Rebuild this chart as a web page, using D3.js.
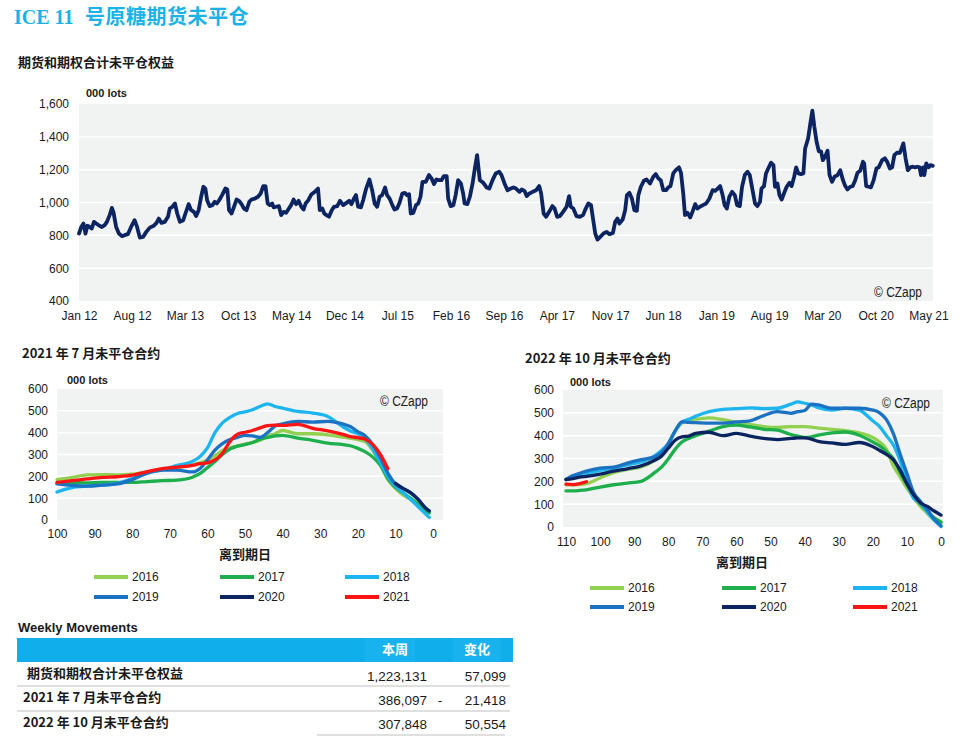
<!DOCTYPE html>
<html><head><meta charset="utf-8">
<script src="https://cdn.jsdelivr.net/npm/d3@7"></script>
<style>
body{margin:0;background:#fff;}
svg{display:block;font-family:"Liberation Sans",Arial,sans-serif;}
</style></head><body>
<svg id="c" width="967" height="749"></svg>
<script>
// ---------------- DATA ----------------
const topYTicks = [400,600,800,1000,1200,1400,1600];
const topXTickLabels = ["2012-01-01","2012-08-01","2013-03-01","2013-10-01","2014-05-01","2014-12-01","2015-07-01","2016-02-01","2016-09-01","2017-04-01","2017-11-01","2018-06-01","2019-01-01","2019-08-01","2020-03-01","2020-10-01","2021-05-01"];
const totalOIDates = [
"2012-01-01","2012-01-10","2012-01-19","2012-01-27","2012-02-04","2012-02-13","2012-02-21","2012-03-01","2012-03-10","2012-03-23","2012-04-02","2012-04-13","2012-04-22","2012-05-03","2012-05-12","2012-05-18","2012-05-29","2012-06-09","2012-06-22","2012-07-02","2012-07-15","2012-07-28","2012-08-11","2012-08-21","2012-09-01","2012-09-14","2012-09-27","2012-10-11","2012-10-27","2012-11-07","2012-11-16","2012-11-27","2012-12-10","2012-12-23","2012-12-30",
"2013-01-10","2013-01-20","2013-01-29","2013-02-09","2013-02-22","2013-03-03","2013-03-16","2013-03-26","2013-04-06","2013-04-15","2013-04-25","2013-05-05","2013-05-14","2013-05-22","2013-05-29","2013-06-08","2013-06-19","2013-06-28","2013-07-07","2013-07-18","2013-07-28","2013-08-10","2013-08-18","2013-08-25","2013-09-04","2013-09-13","2013-09-24","2013-10-04","2013-10-14","2013-10-24","2013-11-03","2013-11-14","2013-11-23","2013-12-06","2013-12-19","2013-12-30",
"2014-01-09","2014-01-18","2014-01-27","2014-02-05","2014-02-14","2014-02-20","2014-03-02","2014-03-13","2014-03-22","2014-04-01","2014-04-11","2014-04-22","2014-05-01","2014-05-11","2014-05-21","2014-05-31","2014-06-11","2014-06-20","2014-06-28","2014-07-09","2014-07-21","2014-08-04","2014-08-17","2014-08-24","2014-09-03","2014-09-11","2014-09-20","2014-09-30","2014-10-11","2014-10-20","2014-11-02","2014-11-13","2014-11-26","2014-12-09","2014-12-20","2014-12-29",
"2015-01-08","2015-01-16","2015-01-25","2015-02-05","2015-02-14","2015-02-26","2015-03-11","2015-03-22","2015-04-01","2015-04-11","2015-04-21","2015-05-01","2015-05-13","2015-05-21","2015-05-31","2015-06-11","2015-06-20","2015-06-30","2015-07-10","2015-07-21","2015-07-31","2015-08-09","2015-08-17","2015-08-24","2015-09-03","2015-09-14","2015-09-23","2015-10-02","2015-10-10","2015-10-23","2015-11-05","2015-11-15","2015-11-25","2015-12-05","2015-12-16","2015-12-25",
"2016-01-04","2016-01-15","2016-01-21","2016-01-31","2016-02-11","2016-02-20","2016-03-01","2016-03-12","2016-03-21","2016-03-27","2016-04-07","2016-04-17","2016-04-28","2016-05-07","2016-05-16","2016-05-27","2016-06-10","2016-06-23","2016-07-04","2016-07-17","2016-07-30","2016-08-13","2016-08-22","2016-09-03","2016-09-15","2016-09-28","2016-10-09","2016-10-19","2016-11-02","2016-11-11","2016-11-22","2016-12-01","2016-12-12","2016-12-25",
"2017-01-08","2017-01-20","2017-01-28","2017-02-07","2017-02-17","2017-03-01","2017-03-14","2017-03-23","2017-04-02","2017-04-13","2017-04-26","2017-05-10","2017-05-20","2017-05-27","2017-06-06","2017-06-19","2017-07-02","2017-07-15","2017-07-26","2017-08-05","2017-08-16","2017-08-25","2017-09-02","2017-09-11","2017-09-22","2017-10-05","2017-10-18","2017-10-29","2017-11-12","2017-11-21","2017-11-30","2017-12-08","2017-12-21","2017-12-31",
"2018-01-07","2018-01-17","2018-01-27","2018-02-06","2018-02-16","2018-02-22","2018-03-04","2018-03-16","2018-03-27","2018-04-10","2018-04-23","2018-05-03","2018-05-13","2018-05-23","2018-06-02","2018-06-13","2018-06-22","2018-07-01","2018-07-12","2018-07-22","2018-08-04","2018-08-12","2018-08-21","2018-08-28","2018-09-07","2018-09-18","2018-09-27","2018-10-08","2018-10-17","2018-10-27","2018-11-08","2018-11-21","2018-12-04","2018-12-17","2018-12-27",
"2019-01-06","2019-01-16","2019-01-26","2019-02-03","2019-02-12","2019-02-22","2019-03-05","2019-03-16","2019-03-25","2019-04-05","2019-04-14","2019-04-25","2019-05-06","2019-05-15","2019-05-26","2019-06-05","2019-06-14","2019-06-25","2019-07-01","2019-07-11","2019-07-19","2019-07-28","2019-08-08","2019-08-18","2019-08-24","2019-09-03","2019-09-11","2019-09-20","2019-09-29","2019-10-10","2019-10-21","2019-10-30","2019-11-09","2019-11-17","2019-11-26","2019-12-06","2019-12-16","2019-12-23",
"2020-01-04","2020-01-13","2020-01-21","2020-01-29","2020-02-07","2020-02-16","2020-02-25","2020-03-03","2020-03-12","2020-03-22","2020-03-30","2020-04-09","2020-04-19","2020-05-01","2020-05-12","2020-05-22","2020-06-01","2020-06-10","2020-06-21","2020-07-01","2020-07-11","2020-07-20","2020-07-31","2020-08-11","2020-08-16","2020-08-24","2020-09-03","2020-09-12","2020-09-23","2020-10-04","2020-10-13","2020-10-27","2020-11-07","2020-11-16","2020-11-27","2020-12-06","2020-12-15","2020-12-26",
"2021-01-06","2021-01-13","2021-01-20","2021-01-29","2021-02-07","2021-02-17","2021-02-27","2021-03-08","2021-03-17","2021-03-26","2021-04-01","2021-04-09","2021-04-14","2021-04-22","2021-05-01","2021-05-08","2021-05-18"];
const totalOIValues = [
811,851,872,811,858,851,841,882,872,858,851,862,882,923,967,943,851,811,795,801,807,851,892,851,786,790,821,847,858,876,902,876,882,913,963,
974,994,933,882,892,933,990,953,943,917,953,1035,1096,1085,1014,978,984,1004,994,1018,1045,1085,1079,953,933,970,1018,1010,990,963,953,1004,1018,1024,1035,1055,
1100,1100,994,984,994,970,974,978,923,943,937,963,984,1018,990,1010,974,957,994,1014,1049,1065,1085,953,963,933,923,913,953,974,978,1010,984,998,1010,990,
1024,1045,974,970,1014,1085,1140,1075,994,974,1035,1045,1092,1045,1024,984,957,963,998,1055,1059,1045,1051,933,937,984,994,1035,1126,1126,1167,1147,1112,1140,1136,1136,
1161,1161,1024,978,984,1045,1136,1116,1055,994,990,1035,1116,1207,1289,1136,1120,1092,1085,1136,1177,1187,1167,1116,1075,1085,1092,1085,1065,1079,1071,1039,1055,1065,
1075,1100,1055,933,913,943,978,963,913,917,943,974,1039,974,963,917,913,923,963,994,984,892,811,774,790,811,821,807,815,882,902,872,896,953,
1045,1059,1024,953,949,1045,1096,1132,1140,1116,1157,1173,1147,1136,1075,1075,1092,1100,1177,1197,1214,1181,1055,923,937,909,943,990,963,974,984,994,1024,1075,1071,
1085,1100,1045,984,963,1035,1065,1045,984,978,1096,1167,1187,1167,1075,994,978,1004,1085,1100,1177,1207,1242,1228,1096,1116,1045,1018,1055,1096,1120,1100,1157,1214,1177,1173,1177,1329,
1390,1482,1559,1462,1370,1311,1311,1258,1279,1315,1167,1126,1157,1167,1197,1140,1100,1079,1096,1100,1136,1181,1193,1248,1238,1100,1096,1092,1136,1207,1214,1258,1269,1248,1207,1214,1289,1303,
1303,1329,1360,1269,1197,1214,1218,1214,1218,1214,1167,1214,1167,1238,1214,1228,1223];

const seriesNames = ["2016","2017","2018","2019","2020","2021"];
const seriesColors = ["#92d050","#1caf4c","#1db5ef","#1c72c2","#0c2560","#ff1414"];

// July 2021 contract (days to expiry)
const julDays = [100,96,92,88,84,80,76,72,68,64,62,60,58,56,54,52,50,48,46,44,42,40,36,32,28,24,22,20,18,16,14,12,10,8,6,4,2,1];
const jul2016 = [185,195,207,208,207,210,220,232,240,252,262,275,295,318,330,340,348,355,365,385,395,410,395,395,390,380,375,368,358,318,255,185,145,115,95,72,45,35];
const jul2017 = [168,172,170,172,172,172,176,180,183,196,212,240,268,300,325,338,345,355,370,378,385,388,375,365,352,345,340,328,312,288,250,190,150,125,100,72,45,32];
const jul2018 = [128,148,155,160,168,190,215,230,250,268,290,330,400,445,470,488,495,505,520,532,520,512,497,490,474,428,408,395,370,325,262,200,155,125,95,62,28,12];
const jul2019 = [165,158,155,160,165,185,215,228,228,220,235,275,320,350,368,378,388,385,378,400,430,440,452,448,452,440,428,405,385,345,285,215,165,145,125,95,55,40];
const jul2020 = [null,null,null,null,null,null,null,null,null,null,null,null,null,null,null,null,null,null,null,null,null,null,null,null,null,null,null,null,null,null,null,null,168,145,125,95,55,42];
const jul2021 = [172,180,188,195,198,205,222,235,242,250,258,262,275,305,360,393,402,410,422,432,435,433,438,420,408,392,382,377,370,345,300,235,null,null,null,null,null,null];

// October 2022 contract (days to expiry)
const octDays = [110,108,106,104,100,96,92,88,84,82,80,78,76,74,72,68,64,60,56,52,48,44,42,40,38,36,32,28,24,20,18,16,14,12,10,8,6,4,2,0];
const oct2016 = [185,185,186,190,215,238,252,263,292,315,365,420,455,470,472,478,470,458,448,440,436,440,440,440,437,433,428,422,412,392,372,340,268,220,170,128,90,60,30,15];
const oct2017 = [158,158,160,163,175,185,192,200,238,262,298,340,372,388,400,420,440,446,438,428,424,405,398,392,395,402,412,416,402,372,355,330,300,240,185,140,100,70,40,22];
const oct2018 = [208,215,222,232,248,258,272,285,312,335,365,420,460,472,485,505,515,518,522,518,520,538,548,542,535,522,512,520,512,465,440,400,360,290,195,125,105,65,30,2];
const oct2019 = [208,225,235,245,258,262,280,295,308,325,365,420,460,458,457,455,455,460,465,488,505,498,505,510,538,535,520,520,520,512,500,470,410,320,235,150,112,75,35,5];
const oct2020 = [208,212,218,222,232,245,255,268,292,310,345,380,395,398,410,415,400,410,398,388,383,388,390,390,385,375,368,362,370,352,335,318,295,249,190,140,105,90,70,52];
const oct2021 = [188,186,190,198,null,null,null,null,null,null,null,null,null,null,null,null,null,null,null,null,null,null,null,null,null,null,null,null,null,null,null,null,null,null,null,null,null,null,null,null];

const smallYTicks = [0,100,200,300,400,500,600];
const julXTicks = [100,90,80,70,60,50,40,30,20,10,0];
const octXTicks = [110,100,90,80,70,60,50,40,30,20,10,0];

const tableLabels = ["期货和期权合计未平仓权益","2021 年 7 月未平仓合约","2022 年 10 月未平仓合约"];
const tableThisWeek = [1223131,386097,307848];
const tableChange = [57099,-21418,50554];

// ---------------- DRAW ----------------
const svg = d3.select("#c");
const CJK = '"Noto Sans CJK SC","Noto Sans CJK JP",sans-serif';
const BG = "#f1f2f2";
const TXT = "#1a1a1a";

function txt(x,y,s,opt={}){
  const t = svg.append("text").attr("x",x).attr("y",y).text(s)
    .attr("fill",opt.fill||TXT)
    .style("font-size",(opt.size||12)+"px")
    .style("font-weight",opt.bold?"bold":"normal")
    .style("font-family",opt.family||null)
    .attr("text-anchor",opt.anchor||"start");
  return t;
}
function czapp(xEnd,y){
  svg.append("text").attr("x",xEnd-48).attr("y",y).text("© CZapp")
    .attr("fill","#222").style("font-size","14px")
    .style("font-family",'"Liberation Sans",Arial,sans-serif')
    .attr("textLength",48).attr("lengthAdjust","spacingAndGlyphs");
}

// main title
txt(14,24,"ICE 11",{fill:"#1ab2e8",size:20,bold:true,family:'"Liberation Serif",serif'});
txt(85,24,"号原糖期货未平仓",{fill:"#1ab2e8",size:20,bold:true,family:CJK}).style("letter-spacing","0.5px");

// ---- top chart ----
txt(18,67,"期货和期权合计未平仓权益",{size:13,bold:true,family:CJK});
const T = {l:79,r:933,t:104,b:301};
const parse = d3.timeParse("%Y-%m-%d");
const tx = d3.scaleTime().domain([parse("2012-01-01"),parse("2021-05-19")]).range([T.l,T.r]);
const ty = d3.scaleLinear().domain([400,1600]).range([T.b,T.t]);
svg.append("rect").attr("x",T.l).attr("y",T.t).attr("width",T.r-T.l).attr("height",T.b-T.t).attr("fill",BG);
svg.append("g").selectAll("line").data(topYTicks.filter(d=>d>400&&d<1600)).join("line")
  .attr("x1",T.l).attr("x2",T.r).attr("y1",d=>ty(d)).attr("y2",d=>ty(d))
  .attr("stroke","#fff").attr("stroke-width",1.5);
const tyAxis = svg.append("g").attr("transform",`translate(${T.l},0)`)
  .call(d3.axisLeft(ty).tickValues(topYTicks).tickSize(0).tickPadding(10).tickFormat(d3.format(",")));
const txAxis = svg.append("g").attr("transform",`translate(0,${T.b})`)
  .call(d3.axisBottom(tx).tickValues(topXTickLabels.map(parse)).tickSize(0).tickPadding(10).tickFormat(d3.timeFormat("%b %y")));
[tyAxis,txAxis].forEach(a=>{a.select(".domain").remove();a.selectAll("text").attr("fill",TXT).style("font-size","12px").style("font-family",'"Liberation Sans",Arial,sans-serif');});
const topData = totalOIDates.map((d,i)=>({date:parse(d),v:totalOIValues[i]}));
svg.append("path").datum(topData)
  .attr("d",d3.line().x(d=>tx(d.date)).y(d=>ty(d.v)))
  .attr("fill","none").attr("stroke","#0c2462").attr("stroke-width",3.8)
  .attr("stroke-linejoin","round").attr("stroke-linecap","round");
txt(86,97,"000 lots",{size:11,bold:true});
czapp(922,297);

// ---- small charts ----
function smallChart(c){
  txt(c.titleX,c.titleY,c.title,{size:13,bold:true,family:CJK});
  const x = d3.scaleLinear().domain([c.xTicks[0],0]).range([c.x0,c.xEnd]);
  const y = d3.scaleLinear().domain([0,600]).range([c.b,c.t]);
  svg.append("rect").attr("x",c.l).attr("y",c.t).attr("width",c.r-c.l).attr("height",c.b-c.t).attr("fill",BG);
  svg.append("g").selectAll("line").data(smallYTicks.filter(d=>d>0&&d<600)).join("line")
    .attr("x1",c.l).attr("x2",c.r).attr("y1",d=>y(d)).attr("y2",d=>y(d))
    .attr("stroke","#fff").attr("stroke-width",1.5);
  const ya = svg.append("g").attr("transform",`translate(${c.l},0)`)
    .call(d3.axisLeft(y).tickValues(smallYTicks).tickSize(0).tickPadding(9));
  const xa = svg.append("g").attr("transform",`translate(0,${c.b})`)
    .call(d3.axisBottom(x).tickValues(c.xTicks).tickSize(0).tickPadding(c.xPad));
  [ya,xa].forEach(a=>{a.select(".domain").remove();a.selectAll("text").attr("fill",TXT).style("font-size","12px").style("font-family",'"Liberation Sans",Arial,sans-serif');});
  const line = d3.line().defined(d=>d.v!=null).x(d=>x(d.d)).y(d=>y(d.v)).curve(d3.curveMonotoneX);
  c.series.forEach((s,i)=>{
    const data = c.days.map((d,j)=>({d:d,v:s[j]}));
    svg.append("path").datum(data).attr("d",line)
      .attr("fill","none").attr("stroke",seriesColors[i]).attr("stroke-width",3.3)
      .attr("stroke-linejoin","round").attr("stroke-linecap","round");
  });
  txt(c.lotsX,c.lotsY,"000 lots",{size:11,bold:true});
  czapp(c.czX,c.czY);
  txt(c.axLabelX,c.axLabelY,"离到期日",{size:13,bold:true,family:CJK,anchor:"middle"});
  seriesNames.forEach((n,i)=>{
    const col = i%3, row = Math.floor(i/3);
    const lx = c.legX[col], ly = c.legY[row];
    svg.append("line").attr("x1",lx).attr("x2",lx+34).attr("y1",ly).attr("y2",ly)
      .attr("stroke",seriesColors[i]).attr("stroke-width",4);
    txt(lx+38,ly+4,n,{size:12});
  });
}

smallChart({title:"2021 年 7 月未平仓合约",titleX:22,titleY:358,
  l:57,r:443,t:389,b:520,x0:57,xEnd:433,xTicks:julXTicks,xPad:9,
  days:julDays,series:[jul2016,jul2017,jul2018,jul2019,jul2020,jul2021],
  lotsX:67,lotsY:384,czX:428,czY:406,axLabelX:245,axLabelY:559,
  legX:[94,220,345],legY:[577,597]});

smallChart({title:"2022 年 10 月未平仓合约",titleX:525,titleY:363,
  l:563,r:943,t:390,b:527,x0:566,xEnd:941,xTicks:octXTicks,xPad:10,
  days:octDays,series:[oct2016,oct2017,oct2018,oct2019,oct2020,oct2021],
  lotsX:570,lotsY:386,czX:930,czY:408,axLabelX:742,axLabelY:567,
  legX:[590,722,853],legY:[588,607]});

// ---- table ----
txt(18,632,"Weekly Movements",{size:13,bold:true});
svg.append("rect").attr("x",17).attr("y",638).attr("width",496).attr("height",24).attr("fill","#10aeea");
svg.append("rect").attr("x",365).attr("y",638).attr("width",50).attr("height",24).attr("fill","#18b3ef");
svg.append("rect").attr("x",453).attr("y",638).attr("width",48).attr("height",24).attr("fill","#18b3ef");
txt(395,654,"本周",{size:13,bold:true,family:CJK,fill:"#fff",anchor:"middle"});
txt(477,654,"变化",{size:13,bold:true,family:CJK,fill:"#fff",anchor:"middle"});
const rowLabelY = [678,702,727], rowValY = [681,705,729], rowLabelX = [27,23,23];
const fmt = d3.format(",");
tableLabels.forEach((lab,i)=>{
  txt(rowLabelX[i],rowLabelY[i],lab,{size:13,bold:true,family:CJK});
  txt(427,rowValY[i],fmt(tableThisWeek[i]),{size:13.5,anchor:"end"});
  if(tableChange[i]<0) txt(440,rowValY[i],"-",{size:13.5,anchor:"middle"});
  txt(506,rowValY[i],fmt(Math.abs(tableChange[i])),{size:13.5,anchor:"end"});
});
[[17,510,686],[17,510,711],[317,505,735]].forEach(([a,b,yy])=>{
  svg.append("line").attr("x1",a).attr("x2",b).attr("y1",yy).attr("y2",yy).attr("stroke","#bfbfbf").attr("stroke-width",1.2);
});
</script>
</body></html>
